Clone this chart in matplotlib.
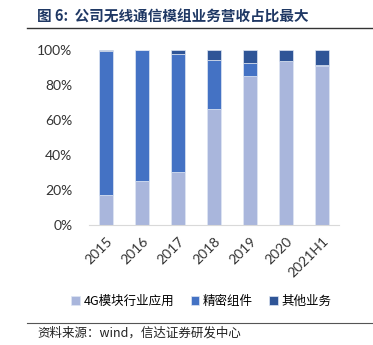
import matplotlib
matplotlib.use("Agg")
import matplotlib.pyplot as plt
from matplotlib.lines import Line2D
from matplotlib.ticker import PercentFormatter
import numpy as np

plt.rcParams['font.family'] = ['Noto Sans CJK SC', 'DejaVu Sans']

years = ["2015", "2016", "2017", "2018", "2019", "2020", "2021H1"]
module_4g = [17.3, 25.1, 30.4, 66.2, 85.4, 93.9, 90.9]   # 4G模块行业应用
precision = [82.1, 74.7, 67.1, 27.9, 7.0, 0.0, 0.4]     # 精密组件
other = [0.6, 0.2, 2.5, 5.9, 7.6, 6.1, 8.7]             # 其他业务

C_LIGHT = "#a9b6dc"
C_MID = "#4472c4"
C_DARK = "#2f5597"

fig = plt.figure(figsize=(3.73, 3.45), dpi=100)
ax = fig.add_axes([89 / 373, 120 / 345, 250 / 373, 175 / 345])

x = np.arange(len(years))
w = 0.39
b1 = np.array(module_4g)
b2 = b1 + np.array(precision)
ax.bar(x, module_4g, w, color=C_LIGHT, edgecolor="#dfe6f3", linewidth=0.5, label="4G模块行业应用")
ax.bar(x, precision, w, bottom=b1, color=C_MID, edgecolor="#dfe6f3", linewidth=0.5, label="精密组件")
ax.bar(x, other, w, bottom=b2, color=C_DARK, edgecolor="#dfe6f3", linewidth=0.5, label="其他业务")

ax.set_xlim(-0.47, len(years) - 0.53)
ax.set_ylim(0, 100)
ax.set_yticks(range(0, 101, 20))
ax.yaxis.set_major_formatter(PercentFormatter(decimals=0))
ax.set_xticks(x)
ax.set_xticklabels(years, rotation=45, ha="right", rotation_mode="anchor")
ax.tick_params(axis="both", length=0, labelsize=10, colors="#333333")
ax.tick_params(axis="y", pad=12)
ax.tick_params(axis="x", pad=7)
for lbl in ax.get_xticklabels() + ax.get_yticklabels():
    lbl.set_family(["Lato", "DejaVu Sans"])
for s in ["top", "right", "left"]:
    ax.spines[s].set_visible(False)
ax.spines["bottom"].set_color("#d9d9d9")

ax.legend(loc="upper center", bbox_to_anchor=(0.45, -0.335), ncol=3, frameon=False,
          fontsize=9, handlelength=0.7, handleheight=0.7, handletextpad=0.3,
          columnspacing=1.3)

fig.text(37 / 373, 1 - 17 / 345, "图 6:  公司无线通信模组业务营收占比最大", fontsize=10.5,
         fontweight="bold", color="#1f3864", va="center", ha="left")
fig.add_artist(Line2D([27 / 373, 1], [1 - 28 / 345] * 2, color="#333333", lw=1))
fig.add_artist(Line2D([27 / 373, 1], [1 - 323 / 345] * 2, color="#555555", lw=0.8))
fig.text(37 / 373, 1 - 333 / 345, "资料来源：wind，信达证券研发中心", fontsize=9,
         color="#222222", va="center", ha="left", style="italic")

fig.savefig("out.png", dpi=100)
